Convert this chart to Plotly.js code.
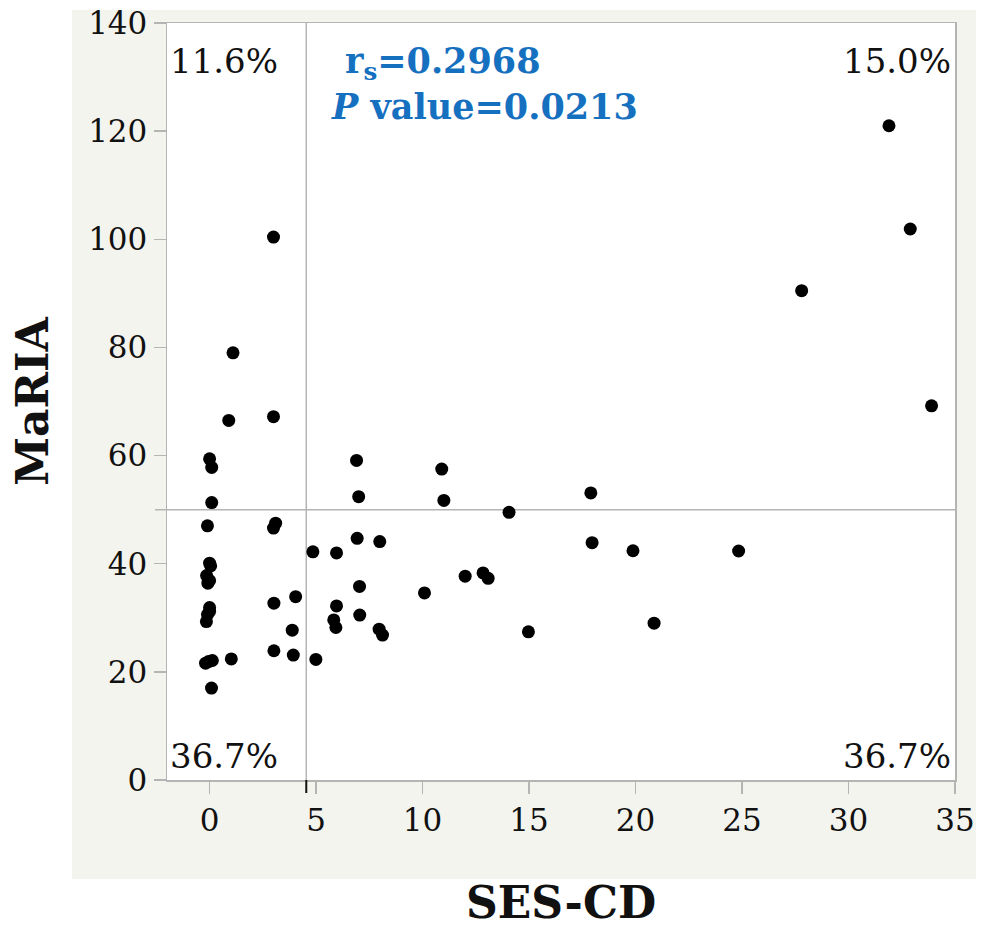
<!DOCTYPE html>
<html>
<head>
<meta charset="utf-8">
<script src="https://cdn.plot.ly/plotly-3.0.1.min.js"></script>
<style>
  html, body { margin: 0; padding: 0; background: #ffffff; }
  #chart { width: 988px; height: 928px; }
</style>
</head>
<body>
<div id="chart"></div>
<script>
// ---- data ----
const sesCD = [
  3.0, 1.1, 0.9, 3.0, 0.0, 0.1, 0.1,
  6.9, 10.9, 7.0, 11.0, 17.9, 31.9, 32.9, 27.8, 33.9,
  -0.1, 3.1, 3.0, 0.0, 0.05, -0.14, -0.08, 0.0, 4.04, 3.02, 0.0, -0.1, 0.0, -0.15,
  3.88, 3.02, 3.93, 1.02, -0.19, 0.13, -0.05, 0.09,
  4.85, 5.96, 5.96, 5.83, 5.93, 4.99, 14.06, 6.93, 7.99, 12.0, 12.84, 13.08,
  7.04, 10.09, 7.05, 7.96, 8.12, 14.97, 17.96, 19.88, 24.84, 20.87
];
const maria = [
  100.4, 79.0, 66.5, 67.2, 59.4, 57.8, 51.3,
  59.1, 57.5, 52.4, 51.7, 53.1, 121.0, 101.9, 90.5, 69.2,
  47.0, 47.5, 46.6, 40.1, 39.6, 37.8, 36.4, 36.9, 33.9, 32.7, 31.9, 30.6, 31.2, 29.3,
  27.7, 23.9, 23.1, 22.4, 21.6, 22.1, 21.9, 17.0,
  42.2, 42.0, 32.2, 29.6, 28.2, 22.3, 49.5, 44.7, 44.1, 37.7, 38.3, 37.3,
  35.8, 34.6, 30.5, 27.9, 26.8, 27.4, 43.9, 42.4, 42.35, 29.0
];
const xRange = [-2, 35];
const yRange = [0, 140];
const yTicks = [0, 20, 40, 60, 80, 100, 120, 140];
const xTicks = [0, 5, 10, 15, 20, 25, 30, 35];
const cutX = 4.54;   // SES-CD cut line
const cutY = 50;     // MaRIA cut line
const quadrantLabels = ["11.6%", "15.0%", "36.7%", "36.7%"];
const statLines = ["r<sub>s</sub>=0.2968", "<i>P</i> value=0.0213"];
const xTitle = "SES-CD";
const yTitle = "MaRIA";

// ---- layout geometry (pixels) ----
const W = 988, H = 928;
const L = 167, R = 33, T = 23, B = 148;
const pw = W - L - R, ph = H - T - B;
const px = v => (v - L) / pw;          // pixel x -> paper x
const py = v => (H - B - v) / ph;      // pixel y -> paper y

const serif = "DejaVu Serif, Liberation Serif, serif";
const grey = "#b4b4b4";
const blue = "#1670c0";
const ink = "#111111";

const trace = {
  type: "scatter",
  mode: "markers",
  x: sesCD,
  y: maria,
  marker: { color: "#000000", size: 13, line: { width: 0 } },
  hoverinfo: "x+y",
  showlegend: false
};

const layout = {
  width: W, height: H,
  margin: { l: L, r: R, t: T, b: B, pad: 0 },
  paper_bgcolor: "#ffffff",
  plot_bgcolor: "#ffffff",
  font: { family: serif, color: ink, size: 31 },
  xaxis: {
    range: xRange, tickvals: xTicks, ticktext: xTicks.map(String),
    showgrid: false, zeroline: false,
    showline: true, mirror: true, linecolor: grey, linewidth: 1.5,
    ticks: "outside", ticklen: 12, tickwidth: 1.5, tickcolor: grey,
    tickfont: { family: serif, size: 31, color: ink },
    automargin: false,
    title: { text: "<b>" + xTitle + "</b>", font: { family: serif, size: 44, color: ink }, standoff: 66 }
  },
  yaxis: {
    range: yRange, tickvals: yTicks, ticktext: yTicks.map(String),
    showgrid: false, zeroline: false,
    showline: true, mirror: true, linecolor: grey, linewidth: 1.5,
    ticks: "outside", ticklen: 12, tickwidth: 1.5, tickcolor: grey,
    tickfont: { family: serif, size: 31, color: ink },
    automargin: false,
    title: { text: "<b>" + yTitle + "</b>", font: { family: serif, size: 44, color: ink }, standoff: 25 }
  },
  shapes: [
    // beige panel behind the plot
    { type: "rect", xref: "paper", yref: "paper", layer: "below",
      x0: px(72), x1: px(976), y0: py(879), y1: py(10),
      fillcolor: "#f4f4ef", line: { width: 0 } },
    // white plot area
    { type: "rect", xref: "paper", yref: "paper", layer: "below",
      x0: 0, x1: 1, y0: 0, y1: 1,
      fillcolor: "#ffffff", line: { width: 0 } },
    // vertical cut line
    { type: "line", xref: "x", yref: "paper", x0: cutX, x1: cutX, y0: 0, y1: 1,
      line: { color: grey, width: 1.5 }, layer: "below" },
    // black tick under vertical cut line
    { type: "line", xref: "x", yref: "paper", x0: cutX, x1: cutX, y0: 0, y1: -13 / ph,
      line: { color: ink, width: 2 } },
    // horizontal cut line (extends to tick area)
    { type: "line", xref: "paper", yref: "y", x0: px(155), x1: 1, y0: cutY, y1: cutY,
      line: { color: grey, width: 1.5 }, layer: "below" }
  ],
  annotations: [
    { xref: "paper", yref: "paper", x: px(168), y: py(39), xanchor: "left", yanchor: "top",
      text: quadrantLabels[0], showarrow: false, font: { family: serif, size: 34, color: ink } },
    { xref: "paper", yref: "paper", x: px(953), y: py(39), xanchor: "right", yanchor: "top",
      text: quadrantLabels[1], showarrow: false, font: { family: serif, size: 34, color: ink } },
    { xref: "paper", yref: "paper", x: px(168), y: py(778), xanchor: "left", yanchor: "bottom",
      text: quadrantLabels[2], showarrow: false, font: { family: serif, size: 34, color: ink } },
    { xref: "paper", yref: "paper", x: px(953), y: py(778), xanchor: "right", yanchor: "bottom",
      text: quadrantLabels[3], showarrow: false, font: { family: serif, size: 34, color: ink } },
    { xref: "paper", yref: "paper", x: px(343), y: py(38), xanchor: "left", yanchor: "top",
      text: "<b>" + statLines[0] + "</b>", showarrow: false, font: { family: serif, size: 35, color: blue } },
    { xref: "paper", yref: "paper", x: px(329), y: py(84), xanchor: "left", yanchor: "top",
      text: "<b>" + statLines[1] + "</b>", showarrow: false, font: { family: serif, size: 35, color: blue } }
  ]
};

Plotly.newPlot("chart", [trace], layout, { displayModeBar: false, staticPlot: true });
</script>
</body>
</html>
